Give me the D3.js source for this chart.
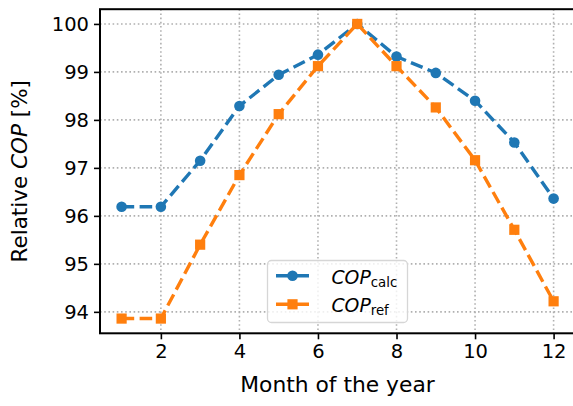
<!DOCTYPE html>
<html>
<head>
<meta charset="utf-8">
<script src="https://cdn.jsdelivr.net/npm/d3@7"></script>
<style>
  html, body { margin: 0; padding: 0; background: #fff; }
  svg { display: block; font-family: "DejaVu Sans", sans-serif; }
</style>
</head>
<body>
<svg id="chart" width="573" height="406"></svg>
<script>
// Monthly relative COP, calculated vs. reference
const months = [1, 2, 3, 4, 5, 6, 7, 8, 9, 10, 11, 12];
const copCalc = [96.19, 96.19, 97.15, 98.29, 98.94, 99.36, 100.0, 99.32, 98.98, 98.40, 97.53, 96.36];
const copRef  = [93.86, 93.86, 95.40, 96.85, 98.12, 99.12, 100.0, 99.12, 98.26, 97.16, 95.71, 94.22];
const xTicks = [2, 4, 6, 8, 10, 12];
const yTicks = [94, 95, 96, 97, 98, 99, 100];

const svg = d3.select("#chart");
const plot = { left: 100, right: 575.2, top: 9.2, bottom: 333.3 };

// 5% padding around the data range on both axes
function padded(ext) {
  const p = (ext[1] - ext[0]) * 0.05;
  return [ext[0] - p, ext[1] + p];
}
const x = d3.scaleLinear().domain(padded(d3.extent(months))).range([plot.left, plot.right]);
const y = d3.scaleLinear().domain(padded(d3.extent(copCalc.concat(copRef)))).range([plot.bottom, plot.top]);

svg.append("defs").append("clipPath").attr("id", "clip")
  .append("rect")
  .attr("x", plot.left).attr("y", plot.top)
  .attr("width", plot.right - plot.left).attr("height", plot.bottom - plot.top);

// dotted grid
const grid = svg.append("g").attr("stroke", "#b0b0b0").attr("stroke-width", 1.6)
  .attr("stroke-dasharray", "1.6,2.6");
grid.selectAll("line.gx").data(xTicks).join("line").attr("class", "gx")
  .attr("x1", d => x(d)).attr("x2", d => x(d))
  .attr("y1", plot.top).attr("y2", plot.bottom);
grid.selectAll("line.gy").data(yTicks).join("line").attr("class", "gy")
  .attr("y1", d => y(d)).attr("y2", d => y(d))
  .attr("x1", plot.left).attr("x2", plot.right);

// axes
const xAxis = svg.append("g").attr("transform", `translate(0,${plot.bottom})`)
  .call(d3.axisBottom(x).tickValues(xTicks).tickSize(6).tickPadding(5).tickFormat(d3.format("d")));
const yAxis = svg.append("g").attr("transform", `translate(${plot.left},0)`)
  .call(d3.axisLeft(y).tickValues(yTicks).tickSize(6).tickPadding(5).tickFormat(d3.format("d")));
[xAxis, yAxis].forEach(a => {
  a.select(".domain").remove();
  a.selectAll(".tick line").attr("stroke", "#000").attr("stroke-width", 1.6);
  a.selectAll(".tick text").attr("fill", "#000")
    .style("font-family", "'DejaVu Sans', sans-serif").style("font-size", "19.5px");
});

// frame
svg.append("rect")
  .attr("x", plot.left).attr("y", plot.top)
  .attr("width", plot.right - plot.left).attr("height", plot.bottom - plot.top)
  .attr("fill", "none").attr("stroke", "#000").attr("stroke-width", 2);

// axis titles
svg.append("text")
  .attr("x", 337.5)
  .attr("y", 392)
  .attr("text-anchor", "middle").style("font-size", "21.8px")
  .text("Month of the year");

const yl = svg.append("text")
  .attr("transform", `translate(27,${(plot.top + plot.bottom) / 2}) rotate(-90)`)
  .attr("text-anchor", "middle").style("font-size", "21.5px");
yl.append("tspan").text("Relative ");
yl.append("tspan").style("font-style", "italic").text("COP");
yl.append("tspan").text(" [%]");

// series
const series = [
  { name: "calc", values: copCalc, color: "#1f77b4", marker: "circle" },
  { name: "ref",  values: copRef,  color: "#ff7f0e", marker: "square" }
];
const line = d3.line().x(d => x(d[0])).y(d => y(d[1]));
const body = svg.append("g").attr("clip-path", "url(#clip)");

function drawMarker(g, type, cx, cy, color) {
  if (type === "circle") {
    g.append("circle").attr("cx", cx).attr("cy", cy).attr("r", 5.3).attr("fill", color);
  } else {
    g.append("rect").attr("x", cx - 5.1).attr("y", cy - 5.1).attr("width", 10.2).attr("height", 10.2).attr("fill", color);
  }
}

series.forEach(s => {
  const pts = months.map((m, i) => [m, s.values[i]]);
  body.append("path").datum(pts)
    .attr("d", line).attr("fill", "none")
    .attr("stroke", s.color).attr("stroke-width", 3.4)
    .attr("stroke-dasharray", "12.6,5.4");
  const mg = body.append("g");
  pts.forEach(p => drawMarker(mg, s.marker, x(p[0]), y(p[1]), s.color));
});

// legend
const lg = svg.append("g");
lg.append("rect").attr("x", 267.5).attr("y", 260.5).attr("width", 140).attr("height", 62)
  .attr("rx", 4).attr("fill", "rgba(255,255,255,0.8)").attr("stroke", "#d6d6d6").attr("stroke-width", 1.3);
const rows = [{ s: series[0], y: 275.7, tb: 283.5 }, { s: series[1], y: 304.3, tb: 311.5 }];
rows.forEach(r => {
  lg.append("line").attr("x1", 276).attr("x2", 309).attr("y1", r.y).attr("y2", r.y)
    .attr("stroke", r.s.color).attr("stroke-width", 3.4);
  drawMarker(lg, r.s.marker, 292.5, r.y, r.s.color);
  const t = lg.append("text").attr("x", 331.5).attr("y", r.tb).style("font-size", "18.8px");
  t.append("tspan").style("font-style", "italic").text("COP");
  t.append("tspan").attr("dy", 3.5).style("font-size", "13.3px").text(r.s.name);
});
</script>
</body>
</html>
